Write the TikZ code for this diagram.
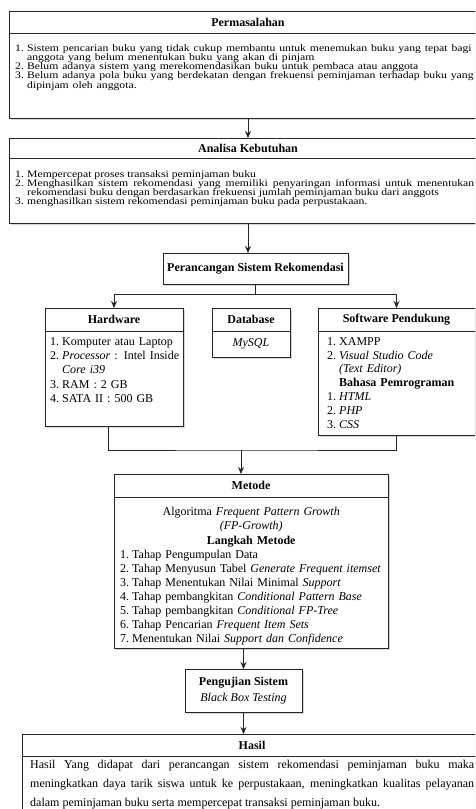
\documentclass[tikz,border=0pt]{standalone}
\usepackage{fontspec}
\setmainfont{Liberation Serif}
\usetikzlibrary{positioning, arrows.meta, shadows, calc}

\newlength{\lblw}
\newcommand{\nitem}[2]{\par\hangindent=\lblw\hangafter=1\noindent\makebox[\lblw][l]{#1}#2}

\begin{document}
\begin{tikzpicture}[x=1pt, y=-1pt, >={Stealth[length=7pt,width=6pt]},
  every node/.style={font=\fontsize{12}{14.2}\selectfont},
  line/.style={draw=black!85, line width=0.9pt},
  panel/.style={line, rectangle, fill=white, inner sep=0pt, outer sep=0pt,
    drop shadow={shadow xshift=2pt, shadow yshift=-2pt, fill=black!30}},
  head/.style={panel, font=\fontsize{12}{14.2}\selectfont\bfseries},
  txt/.style={inner sep=0pt, anchor=north west, align=left},
  tight/.style={yscale=.85, font=\fontsize{11.7}{10.8}\selectfont}]
  \useasboundingbox (0,0) rectangle (475,809);
  \clip (0,0) rectangle (475,809);

  % permasalahan
  \node[head, minimum width=478, minimum height=22] (problem) at (248,22) {Permasalahan};
  \node[panel, minimum width=478, minimum height=85, below=0pt of problem] (problemBox) {};
  \node[txt, tight, text width=500] (problemText) at (15,42) {%
    \lineskiplimit=-20pt\setlength{\lblw}{12pt}%
    \nitem{1.}{Sistem pencarian buku yang tidak cukup membantu untuk menemukan buku yang tepat bagi\newline anggota yang belum menentukan buku yang akan di pinjam}
    \nitem{2.}{Belum adanya sistem yang merekomendasikan buku untuk pembaca atau anggota}
    \nitem{3.}{Belum adanya pola buku yang berdekatan dengan frekuensi peminjaman terhadap buku yang\newline dipinjam oleh anggota.}\par};

  % analisa kebutuhan
  \node[head, minimum width=478, minimum height=20] (need) at (248,148) {Analisa Kebutuhan};
  \node[panel, minimum width=478, minimum height=65, below=0pt of need] (needBox) {};
  \node[txt, tight, text width=459, align=justify] (needText) at (15,168) {%
    \lineskiplimit=-20pt\setlength{\lblw}{12pt}%
    \nitem{1.}{Mempercepat proses transaksi peminjaman buku\hfill\null}
    \nitem{2.}{Menghasilkan sistem rekomendasi yang memiliki penyaringan informasi untuk menentukan\linebreak rekomendasi buku dengan berdasarkan frekuensi jumlah peminjaman buku dari anggots\hfill\null}
    \nitem{3.}{menghasilkan sistem rekomendasi peminjaman buku pada perpustakaan.\hfill\null}\par};

  \node[head, minimum width=185, minimum height=31] (design) at (255.5,268.5) {Perancangan Sistem Rekomendasi};

  % hardware, database, software
  \node[head, minimum width=138, minimum height=23] (hw) at (114,319.5) {Hardware};
  \node[panel, minimum width=138, minimum height=95, below=0pt of hw] (hwBox) {};
  \node[txt, text width=140] (hwText) at (50,331) {%
    \setlength{\lblw}{12pt}%
    \nitem{1.}{Komputer atau Laptop}
    \nitem{2.}{\textit{Processor} : Intel Inside\newline\textit{Core i39}}
    \nitem{3.}{RAM : 2 GB}
    \nitem{4.}{SATA II : 500 GB}\par};

  \node[head, minimum width=78, minimum height=23] (db) at (251,319.5) {Database};
  \node[panel, minimum width=78, minimum height=26, below=0pt of db] (dbBox) {\textit{MySQL}};

  \node[head, minimum width=157, minimum height=23] (sw) at (396.5,319.5) {Software Pendukung};
  \node[panel, minimum width=157, minimum height=104, below=0pt of sw] (swBox) {};
  \node[txt, text width=139, font=\fontsize{12}{13.9}\selectfont] (swText) at (327,331) {%
    \setlength{\lblw}{12pt}%
    \nitem{1.}{XAMPP}
    \nitem{2.}{\textit{Visual Studio Code}\newline\textit{(Text Editor)}}
    \par{\centering\textbf{Bahasa Pemrograman}\par}
    \nitem{1.}{\textit{HTML}}
    \nitem{2.}{\textit{PHP}}
    \nitem{3.}{\textit{CSS}}\par};

  % metode
  \node[head, minimum width=274, minimum height=23] (method) at (251,485.5) {Metode};
  \node[panel, minimum width=274, minimum height=151, below=0pt of method] (methodBox) {};
  \node[txt, text width=262, font=\fontsize{12}{14}\selectfont] (methodText) at (120,506.5) {%
    \setlength{\lblw}{12pt}%
    {\centering Algoritma \textit{Frequent Pattern Growth}\par
     \textit{(FP-Growth)}\par
     \vspace{1.5pt}\textbf{Langkah Metode}\par}
    \nitem{1.}{Tahap Pengumpulan Data}
    \nitem{2.}{\mbox{Tahap Menyusun Tabel \textit{Generate Frequent itemset}}}
    \nitem{3.}{Tahap Menentukan Nilai Minimal \textit{Support}}
    \nitem{4.}{\mbox{Tahap pembangkitan \textit{Conditional Pattern Base}}}
    \nitem{5.}{Tahap pembangkitan \textit{Conditional FP-Tree}}
    \nitem{6.}{Tahap Pencarian \textit{Frequent Item Sets}}
    \nitem{7.}{\mbox{Menentukan Nilai \textit{Support dan Confidence}}}\par};

  \node[head, minimum width=117, minimum height=43, align=center,
    font=\fontsize{12}{16}\selectfont] (test) at (243.5,690.5)
    {\textbf{Pengujian Sistem}\\\textit{Black Box Testing}};

  % hasil
  \node[head, minimum width=460, minimum height=22] (result) at (252,745) {Hasil};
  \node[panel, minimum width=460, minimum height=110, below=0pt of result] (resultBox) {};
  \node[txt, text width=444, align=justify, font=\fontsize{12}{18.8}\selectfont] (resultText) at (30,760) {%
    \noindent Hasil Yang didapat dari perancangan sistem rekomendasi peminjaman buku maka\linebreak
    meningkatkan daya tarik siswa untuk ke perpustakaan, meningkatkan kualitas pelayanan\linebreak
    dalam peminjaman buku serta mempercepat transaksi peminjaman buku.\par};

  % connectors
  \coordinate (split) at ($(design.south)+(0,10)$);
  \coordinate (join) at (241,450);
  \draw[line,->] (problemBox.south) -- (need.north);
  \draw[line,->] (needBox.south) -- (needBox.south |- design.north);
  \draw[line] (design.south) -- (split);
  \draw[line,->] (split) -| (hw.north);
  \draw[line,->] (split) -| (sw.north);
  \draw[line] ($(hwBox.south)+(-6,0)$) |- (join) -| (swBox.south);
  \draw[line,->] (join) -- (join |- method.north);
  \draw[line,->] (methodBox.south -| test.north) -- (test.north);
  \draw[line,->] (test.south) -- (test.south |- result.north);
\end{tikzpicture}
\end{document}
